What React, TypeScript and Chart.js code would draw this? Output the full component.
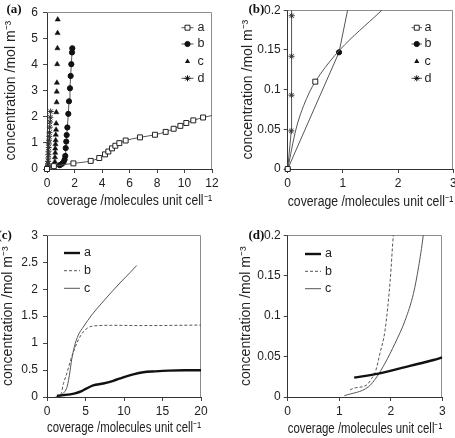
import React, { useEffect, useRef } from 'react';
import { Chart, registerables } from 'chart.js';

Chart.register(...registerables);

const FONT = "'Liberation Sans', Arial, Helvetica, sans-serif";
const SERIF = "'Liberation Serif', 'Times New Roman', serif";
const INK = '#222';

// ---------- data: panels (a) and (b) (markers) ----------
const aX = [0, 0.15, 0.29, 0.5, 1.92, 3.18, 3.8, 4.22, 4.46, 4.73, 4.97, 5.26, 5.72, 6.76, 7.85, 8.63, 9.21, 9.7, 10.13, 10.64, 11.35, 12.5];
const aY = [0, 0.05, 0.08, 0.11, 0.215, 0.31, 0.42, 0.56, 0.67, 0.79, 0.89, 0.99, 1.09, 1.21, 1.31, 1.42, 1.54, 1.65, 1.76, 1.86, 1.97, 2.1];
const aHiddenMarkers = [1, 2];

const bX = [0, 0.93, 1.1, 1.2, 1.28, 1.33, 1.36, 1.4, 1.43, 1.48, 1.55, 1.6, 1.67, 1.72, 1.77, 1.82, 1.84];
const bY = [0, 0.147, 0.205, 0.26, 0.36, 0.5, 0.8, 1.05, 1.3, 1.59, 2.11, 2.59, 3.09, 3.56, 4.01, 4.46, 4.62];

const cX = [0.78, 0.77, 0.76, 0.74, 0.72, 0.71, 0.7, 0.68, 0.67, 0.66, 0.64, 0.63, 0.62, 0.6, 0.6, 0.58, 0.57];
const cY = [5.72, 5.2, 4.62, 4.01, 3.3, 2.96, 2.55, 2.17, 1.74, 1.5, 1.31, 1.1, 0.95, 0.78, 0.62, 0.45, 0.28];

const dX = [0, 0.065, 0.068, 0.07, 0.072, 0.08, 0.09, 0.1, 0.11, 0.12, 0.13, 0.15, 0.16, 0.18, 0.2, 0.22, 0.24, 0.27];
const dY = [0, 0.048, 0.093, 0.142, 0.193, 0.29, 0.42, 0.55, 0.68, 0.82, 0.96, 1.1, 1.25, 1.4, 1.6, 1.8, 1.98, 2.2];

// ---------- data: panels (c) and (d) (lines) ----------
const lineAX = [1.29, 1.76, 2.28, 2.66, 3.0, 3.64, 4.5, 5.15, 6.0, 7.3, 8.6, 9.9, 11.2, 12.5, 14.0, 15.8, 17.9, 20];
const lineAY = [0.024, 0.029, 0.037, 0.043, 0.049, 0.068, 0.11, 0.16, 0.216, 0.25, 0.3, 0.365, 0.42, 0.46, 0.476, 0.49, 0.495, 0.495];

const lineBX = [1.21, 1.27, 1.53, 1.63, 1.71, 1.79, 1.89, 1.99, 2.05, 2.25, 2.6, 3.0, 3.42, 4.07, 4.72, 5.37, 6.23, 8.4, 12.7, 17.1, 20];
const lineBY = [0.0087, 0.0107, 0.0148, 0.023, 0.033, 0.054, 0.083, 0.145, 0.2, 0.3, 0.45, 0.65, 0.83, 1.06, 1.21, 1.29, 1.32, 1.33, 1.325, 1.33, 1.335];

const lineCX = [1.1, 1.57, 1.73, 1.89, 2.08, 2.28, 2.44, 2.54, 2.63, 2.8, 3.0, 3.2, 3.55, 4.07, 4.72, 5.8, 7.1, 8.4, 9.7, 10.8, 11.65];
const lineCY = [0.0016, 0.0128, 0.025, 0.042, 0.066, 0.095, 0.128, 0.161, 0.2, 0.31, 0.49, 0.69, 0.93, 1.15, 1.3, 1.52, 1.74, 1.95, 2.15, 2.31, 2.44];

// ---------- ticks ----------
const xTicksA = [0, 2, 4, 6, 8, 10, 12];
const xLabelsA = ['0', '2', '4', '6', '8', '10', '12'];
const yTicksA = [0, 1, 2, 3, 4, 5, 6];
const yLabelsA = ['0', '1', '2', '3', '4', '5', '6'];
const xTicksSmall = [0, 1, 2, 3];
const xLabelsSmall = ['0', '1', '2', '3'];
const yTicksSmall = [0, 0.05, 0.1, 0.15, 0.2];
const yLabelsSmall = ['0', '0.05', '0.1', '0.15', '0.2'];
const xTicksC = [0, 5, 10, 15, 20];
const xLabelsC = ['0', '5', '10', '15', '20'];
const yTicksC = [0, 0.5, 1, 1.5, 2, 2.5, 3];
const yLabelsC = ['0', '0.5', '1', '1.5', '2', '2.5', '3'];

const seriesNames = ['a', 'b', 'c', 'd'];
const X_TITLE = 'coverage /molecules unit cell⁻¹';
const Y_TITLE = 'concentration /mol m⁻³';

const pts = (xs: number[], ys: number[]) => xs.map((x, i) => ({ x, y: ys[i] }));
const CLIP = { left: 8, bottom: 8, top: 0, right: 0 };

function markerSets() {
  return [
    {
      label: seriesNames[0], data: pts(aX, aY), borderColor: '#555', borderWidth: 1,
      pointStyle: 'rect', pointRadius: (c: any) => (aHiddenMarkers.includes(c.dataIndex) ? 0 : 3.5),
      pointBackgroundColor: '#fff', pointBorderColor: '#222', pointBorderWidth: 1,
      cubicInterpolationMode: 'monotone', clip: CLIP,
    },
    {
      label: seriesNames[1], data: pts(bX, bY), borderColor: '#555', borderWidth: 1,
      pointStyle: 'circle', pointRadius: 2.6, pointBackgroundColor: '#111', pointBorderColor: '#111',
      pointBorderWidth: 1, tension: 0, clip: CLIP,
    },
    {
      label: seriesNames[2], data: pts(cX, cY), showLine: false,
      pointStyle: 'triangle', pointRadius: 3, pointBackgroundColor: '#111', pointBorderColor: '#111',
      pointBorderWidth: 0.5, clip: CLIP,
    },
    {
      label: seriesNames[3], data: pts(dX, dY), borderColor: '#555', borderWidth: 1,
      pointStyle: 'star', pointRadius: 3, pointBackgroundColor: '#333', pointBorderColor: '#333',
      pointBorderWidth: 1, tension: 0, clip: CLIP,
    },
  ];
}

function lineSets() {
  return [
    { label: seriesNames[0], data: pts(lineAX, lineAY), borderColor: '#111', borderWidth: 2.4, pointRadius: 0, cubicInterpolationMode: 'monotone', clip: CLIP },
    { label: seriesNames[1], data: pts(lineBX, lineBY), borderColor: '#555', borderWidth: 1, borderDash: [3, 2], pointRadius: 0, cubicInterpolationMode: 'monotone', clip: CLIP },
    { label: seriesNames[2], data: pts(lineCX, lineCY), borderColor: '#555', borderWidth: 1, pointRadius: 0, cubicInterpolationMode: 'monotone', clip: CLIP },
  ];
}

function drawMarker(ctx: CanvasRenderingContext2D, style: string, x: number, y: number, r: number, fill: string, stroke: string) {
  ctx.save();
  ctx.beginPath();
  ctx.lineWidth = 1;
  ctx.fillStyle = fill;
  ctx.strokeStyle = stroke;
  if (style === 'rect') {
    const s = Math.SQRT1_2 * r;
    ctx.rect(x - s, y - s, 2 * s, 2 * s);
    ctx.fill();
    ctx.stroke();
  } else if (style === 'circle') {
    ctx.arc(x, y, r, 0, Math.PI * 2);
    ctx.fill();
    ctx.stroke();
  } else if (style === 'triangle') {
    let rad = 0;
    ctx.moveTo(x + Math.sin(rad) * r, y - Math.cos(rad) * r);
    rad += (2 * Math.PI) / 3;
    ctx.lineTo(x + Math.sin(rad) * r, y - Math.cos(rad) * r);
    rad += (2 * Math.PI) / 3;
    ctx.lineTo(x + Math.sin(rad) * r, y - Math.cos(rad) * r);
    ctx.closePath();
    ctx.fill();
  } else if (style === 'star') {
    const d = r * Math.SQRT1_2;
    ctx.moveTo(x, y - r); ctx.lineTo(x, y + r);
    ctx.moveTo(x - r, y); ctx.lineTo(x + r, y);
    ctx.moveTo(x - d, y - d); ctx.lineTo(x + d, y + d);
    ctx.moveTo(x - d, y + d); ctx.lineTo(x + d, y - d);
    ctx.stroke();
  }
  ctx.restore();
}

type Panel = {
  box: { left: number; top: number; width: number; height: number };
  area: { left: number; top: number; right: number; bottom: number };
  x: { min: number; max: number; ticks: number[]; labels: string[]; titlePad: number; tickPad: number };
  y: { min: number; max: number; ticks: number[]; labels: string[]; titlePad: number; tickPad: number };
  kind: 'markers' | 'lines';
  legend: { x0: number; x1: number; textX: number; rows: number[] };
  tag: { text: string; x: number; y: number };
};

function axis(isX: boolean, a: Panel['x'], fitSize: number) {
  return {
    type: 'linear',
    position: isX ? 'bottom' : 'left',
    min: a.min,
    max: a.max,
    afterBuildTicks: (s: any) => { s.ticks = a.ticks.map((v) => ({ value: v })); },
    afterFit: (s: any) => { if (isX) s.height = fitSize; else s.width = fitSize; },
    ticks: {
      autoSkip: false, maxRotation: 0, padding: a.tickPad, color: INK,
      font: { family: FONT, size: 12 },
      callback: (_v: any, i: number) => a.labels[i],
    },
    grid: { display: true, drawOnChartArea: false, drawTicks: true, tickLength: 4, color: '#444', lineWidth: 1 },
    border: { display: true, color: '#333', width: 1 },
    title: {
      display: true, text: isX ? X_TITLE : Y_TITLE, color: INK,
      font: { family: FONT, size: 14 },
      padding: isX ? { top: 0, bottom: a.titlePad } : { top: a.titlePad, bottom: 0 },
    },
  };
}

function buildChart(canvas: HTMLCanvasElement, p: Panel) {
  const W = p.box.width, H = p.box.height;
  const markerStyles = ['rect', 'circle', 'triangle', 'star'];
  const markerFill = ['#fff', '#111', '#111', '#333'];
  const markerR = [3.5, 2.6, 3, 3];
  const lineStyles = [
    { w: 2.4, dash: [] as number[], color: '#111' },
    { w: 1, dash: [3, 2], color: '#555' },
    { w: 1, dash: [] as number[], color: '#555' },
  ];
  const decor = {
    id: 'decor',
    beforeDatasetsDraw(chart: any) {
      const { ctx, chartArea: ca } = chart;
      ctx.save();
      ctx.strokeStyle = '#8c8c8c';
      ctx.lineWidth = 1;
      ctx.beginPath();
      const t = Math.round(ca.top) + 0.5;
      const r = Math.round(ca.right) - 0.5;
      ctx.moveTo(ca.left, t);
      ctx.lineTo(r, t);
      ctx.lineTo(r, ca.bottom);
      ctx.stroke();
      ctx.restore();
    },
    afterDraw(chart: any) {
      const ctx: CanvasRenderingContext2D = chart.ctx;
      ctx.save();
      const lg = p.legend;
      const n = p.kind === 'markers' ? 4 : 3;
      for (let i = 0; i < n; i++) {
        const y = lg.rows[i];
        if (p.kind === 'markers') {
          if (i !== 2) {
            ctx.beginPath();
            ctx.strokeStyle = '#555';
            ctx.lineWidth = 1;
            ctx.moveTo(lg.x0, y);
            ctx.lineTo(lg.x1, y);
            ctx.stroke();
          }
          drawMarker(ctx, markerStyles[i], (lg.x0 + lg.x1) / 2, y, markerR[i], markerFill[i], i === 0 ? '#222' : '#111');
        } else {
          const s = lineStyles[i];
          ctx.beginPath();
          ctx.strokeStyle = s.color;
          ctx.lineWidth = s.w;
          ctx.setLineDash(s.dash);
          ctx.moveTo(lg.x0, y);
          ctx.lineTo(lg.x1, y);
          ctx.stroke();
          ctx.setLineDash([]);
        }
        ctx.fillStyle = INK;
        ctx.font = `12.5px ${FONT}`;
        ctx.textAlign = 'left';
        ctx.textBaseline = 'middle';
        ctx.fillText(seriesNames[i], lg.textX, y);
      }
      ctx.fillStyle = '#111';
      ctx.font = `bold 13px ${SERIF}`;
      ctx.textAlign = 'left';
      ctx.textBaseline = 'middle';
      ctx.fillText(p.tag.text, p.tag.x, p.tag.y);
      ctx.restore();
    },
  };

  return new Chart(canvas, {
    type: 'line',
    data: { datasets: (p.kind === 'markers' ? markerSets() : lineSets()) as any },
    options: {
      responsive: false,
      animation: false,
      events: [],
      devicePixelRatio: 1,
      layout: { padding: { left: 0, top: p.area.top, right: W - p.area.right, bottom: 0 } },
      plugins: { legend: { display: false }, title: { display: false }, tooltip: { enabled: false } },
      scales: {
        x: axis(true, p.x, H - p.area.bottom) as any,
        y: axis(false, p.y, p.area.left) as any,
      },
    },
    plugins: [decor],
  });
}

const panels: Panel[] = [
  {
    box: { left: 0, top: 0, width: 227, height: 218 },
    area: { left: 47, top: 9, right: 212, bottom: 169 },
    x: { min: 0, max: 12, ticks: xTicksA, labels: xLabelsA, titlePad: 8.2, tickPad: 3 },
    y: { min: 0, max: 6, ticks: yTicksA, labels: yLabelsA, titlePad: 2.7, tickPad: 5 },
    kind: 'markers',
    legend: { x0: 181.5, x1: 193.5, textX: 197.5, rows: [27.7, 44, 61.5, 78.3] },
    tag: { text: '(a)', x: 6.5, y: 9.5 },
  },
  {
    box: { left: 227, top: 0, width: 240, height: 218 },
    area: { left: 60.7, top: 9, right: 226.3, bottom: 169 },
    x: { min: 0, max: 3, ticks: xTicksSmall, labels: xLabelsSmall, titlePad: 7.2, tickPad: 3 },
    y: { min: 0, max: 0.2, ticks: yTicksSmall, labels: yLabelsSmall, titlePad: 13.2, tickPad: 3 },
    kind: 'markers',
    legend: { x0: 184.5, x1: 195, textX: 197.5, rows: [27.7, 44, 61.5, 78.3] },
    tag: { text: '(b)', x: 21.5, y: 10 },
  },
  {
    box: { left: 0, top: 218, width: 227, height: 220 },
    area: { left: 47, top: 17.3, right: 201, bottom: 179 },
    x: { min: 0, max: 20, ticks: xTicksC, labels: xLabelsC, titlePad: 1.2, tickPad: 3 },
    y: { min: 0, max: 3, ticks: yTicksC, labels: yLabelsC, titlePad: 0.2, tickPad: 5 },
    kind: 'lines',
    legend: { x0: 64, x1: 80, textX: 84, rows: [35, 52.7, 70.3] },
    tag: { text: '(c)', x: -2.6, y: 17.3 },
  },
  {
    box: { left: 227, top: 218, width: 228, height: 220 },
    area: { left: 60.7, top: 17.3, right: 215.3, bottom: 179 },
    x: { min: 0, max: 3, ticks: xTicksSmall, labels: xLabelsSmall, titlePad: 0.2, tickPad: 3 },
    y: { min: 0, max: 0.2, ticks: yTicksSmall, labels: yLabelsSmall, titlePad: 11.2, tickPad: 3 },
    kind: 'lines',
    legend: { x0: 78, x1: 94, textX: 98, rows: [36, 53.3, 70.7] },
    tag: { text: '(d)', x: 21.5, y: 17.3 },
  },
];

function PanelChart({ p }: { p: Panel }) {
  const ref = useRef<HTMLCanvasElement | null>(null);
  useEffect(() => {
    if (!ref.current) return;
    const chart = buildChart(ref.current, p);
    return () => chart.destroy();
  }, [p]);
  return (
    <canvas
      ref={ref}
      width={p.box.width}
      height={p.box.height}
      style={{ position: 'absolute', left: p.box.left, top: p.box.top, width: p.box.width, height: p.box.height }}
    />
  );
}

export default function App() {
  return (
    <div style={{ position: 'absolute', left: 0, top: 0, width: 455, height: 438, overflow: 'hidden', background: '#fff' }}>
      {panels.map((p, i) => (
        <PanelChart key={i} p={p} />
      ))}
    </div>
  );
}
